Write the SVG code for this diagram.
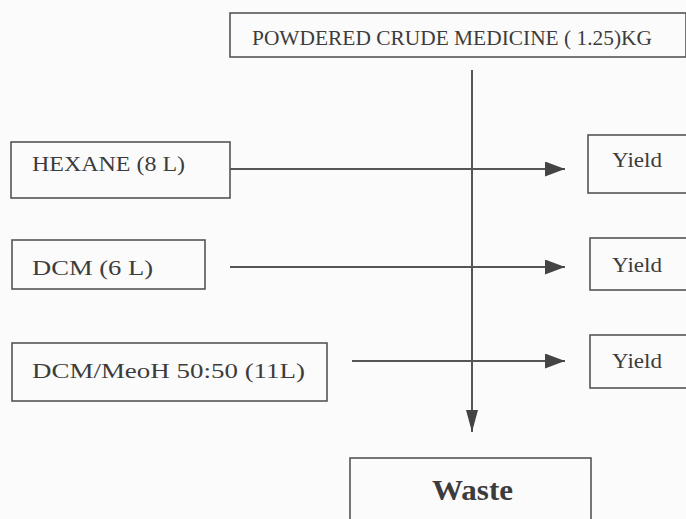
<svg xmlns="http://www.w3.org/2000/svg" width="686" height="519" viewBox="0 0 686 519">
<defs>
<style>
.box{fill:none;stroke:#555;stroke-width:1.6}
.t{font-family:"Liberation Serif","Times New Roman",serif;fill:#3c3c3c;font-size:21px}
.c{stroke:#555;stroke-width:2;fill:none}
</style>
<marker id="ahb" viewBox="0 0 10 10" refX="10" refY="5" markerWidth="10" markerHeight="7.5" markerUnits="strokeWidth" orient="auto" preserveAspectRatio="none">
<path d="M0,0 L10,5 L0,10 Z" fill="#444"/>
</marker>
<marker id="ahd" viewBox="0 0 10 10" refX="10" refY="5" markerWidth="11" markerHeight="6" markerUnits="strokeWidth" orient="auto" preserveAspectRatio="none">
<path d="M0,0 L10,5 L0,10 Z" fill="#444"/>
</marker>
</defs>
<rect width="686" height="519" fill="#fbfbfb"/>
<g id="connectors">
<line class="c" x1="472" y1="70" x2="472" y2="432" marker-end="url(#ahd)"/>
<line class="c" x1="230" y1="169" x2="565" y2="169" marker-end="url(#ahb)"/>
<line class="c" x1="230" y1="267" x2="565" y2="267" marker-end="url(#ahb)"/>
<line class="c" x1="352" y1="361" x2="565" y2="361" marker-end="url(#ahb)"/>
</g>
<g id="powder">
<rect class="box" x="230" y="13" width="456" height="44"/>
<text class="t" x="252" y="45" textLength="400" lengthAdjust="spacingAndGlyphs">POWDERED CRUDE  MEDICINE ( 1.25)KG</text>
</g>
<g id="hexane">
<rect class="box" x="11" y="142" width="219" height="56"/>
<text class="t" x="32" y="171" textLength="153" lengthAdjust="spacingAndGlyphs">HEXANE (8 L)</text>
</g>
<g id="dcm">
<rect class="box" x="12" y="240" width="193" height="49"/>
<text class="t" x="32" y="275" textLength="121" lengthAdjust="spacingAndGlyphs">DCM (6 L)</text>
</g>
<g id="dcmmeoh">
<rect class="box" x="12" y="343" width="315" height="58"/>
<text class="t" x="32" y="378" style="font-size:22px" textLength="273" lengthAdjust="spacingAndGlyphs">DCM/MeoH 50:50 (11L)</text>
</g>
<g id="yield1">
<rect class="box" x="588" y="135" width="100" height="58"/>
<text class="t" x="612" y="167" textLength="50" lengthAdjust="spacingAndGlyphs">Yield</text>
</g>
<g id="yield2">
<rect class="box" x="590" y="238" width="100" height="52"/>
<text class="t" x="612" y="272" textLength="50" lengthAdjust="spacingAndGlyphs">Yield</text>
</g>
<g id="yield3">
<rect class="box" x="590" y="335" width="100" height="53"/>
<text class="t" x="612" y="368" textLength="50" lengthAdjust="spacingAndGlyphs">Yield</text>
</g>
<g id="waste">
<rect class="box" x="350" y="458" width="241" height="70"/>
<text class="t" x="432" y="500" style="font-size:30px;font-weight:bold" textLength="81" lengthAdjust="spacingAndGlyphs">Waste</text>
</g>
</svg>
